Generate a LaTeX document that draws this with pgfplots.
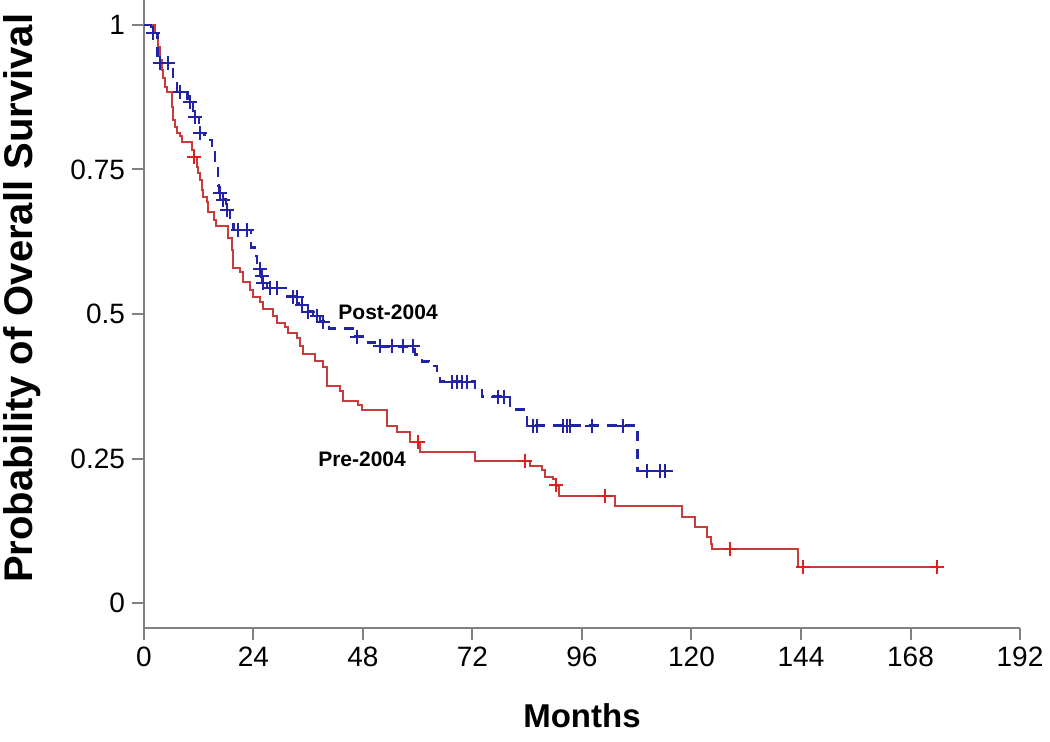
\documentclass[border=0pt]{standalone}
\usepackage{pgfplots}
\pgfplotsset{compat=1.18}
\usepackage{fontspec}
\setmainfont{Liberation Sans}
\definecolor{kmred}{RGB}{200,60,60}
\definecolor{kmredmark}{RGB}{225,30,30}
\definecolor{kmblue}{RGB}{35,35,165}
\begin{document}
\begin{tikzpicture}
\useasboundingbox (-72pt,-56.5pt) rectangle (453pt,314pt);
\begin{axis}[
  at={(0,0)}, anchor=south west,
  scale only axis, width=438pt, height=314pt,
  xmin=0, xmax=192, ymin=-0.043, ymax=1.043,
  axis x line=bottom, axis y line=left,
  axis line style={-, gray, line width=1pt},
  xtick={0,24,...,192},
  ytick={0,0.25,0.5,0.75,1},
  yticklabels={0,0.25,0.5,0.75,1},
  tick align=outside, major tick length=6pt,
  tick style={gray, line width=1pt},
  /pgf/number format/assume math mode=true,
  tick label style={font=\fontsize{14}{16}\selectfont, black},
  xlabel={Months}, ylabel={Probability of Overall Survival},
  xlabel style={font=\bfseries\fontsize{16.5}{19}\selectfont, at={(axis description cs:0.5,-0.14)}, anchor=center},
  ylabel style={font=\bfseries\fontsize{20}{22}\selectfont, at={(axis description cs:-0.139,0.525)}, anchor=center},
  clip=false,
]
% Pre-2004
\addplot[const plot, kmred, line width=1pt] coordinates {
(0,1.0) (2.4,0.986) (3.1,0.962) (3.5,0.940) (3.9,0.922) (4.2,0.908) (4.6,0.893)
(5.0,0.884) (6.1,0.858) (6.4,0.836) (6.8,0.824) (7.2,0.813) (7.9,0.807) (8.3,0.798)
(10.5,0.784) (10.9,0.772) (11.6,0.755) (11.8,0.744) (12.3,0.732) (12.7,0.715)
(12.9,0.703) (13.8,0.694) (14.0,0.677) (15.3,0.663) (15.7,0.652) (18.5,0.632)
(19.2,0.611) (19.5,0.580) (21.0,0.573) (21.7,0.556) (23.2,0.542) (23.9,0.530)
(25.4,0.520) (26.1,0.508) (28.3,0.496) (29.1,0.485) (30.9,0.478) (31.6,0.468)
(33.5,0.459) (34.2,0.444) (34.8,0.430) (37.5,0.418) (39.2,0.409) (40.1,0.376)
(43.0,0.366) (43.6,0.350) (46.9,0.342) (47.8,0.334) (53.3,0.306) (55.4,0.296)
(58.3,0.279) (60.5,0.261) (72.5,0.246) (84.6,0.237) (87.2,0.231) (87.9,0.219)
(89.6,0.214) (90.2,0.202) (90.9,0.185) (103.2,0.168) (117.9,0.149) (120.8,0.131)
(123.4,0.114) (124.2,0.103) (124.6,0.093) (143.3,0.062) (175.0,0.062)
};
\addplot[only marks, mark=+, mark size=3.5pt, kmredmark, mark options={line width=1pt}] coordinates {
(10.9,0.772) (60.0,0.279) (83.5,0.246) (90.3,0.205) (101.0,0.185)
(128.4,0.093) (144.4,0.062) (173.8,0.062)
};
% Post-2004
\addplot[const plot, kmblue, line width=1.2pt, dash pattern=on 5pt off 4pt] coordinates {
(0,1.0) (1.5,0.986) (3.0,0.934) (6.4,0.908) (7.2,0.884) (9.5,0.867) (10.8,0.841)
(12.0,0.813) (13.3,0.801) (14.9,0.779) (15.6,0.755) (16.2,0.722) (16.5,0.710)
(17.1,0.698) (18.0,0.680) (18.8,0.660) (19.6,0.645) (23.4,0.615) (24.2,0.600)
(24.8,0.589) (25.2,0.577) (25.7,0.565) (26.0,0.554) (27.0,0.545) (31.0,0.530)
(34.0,0.516) (35.5,0.504) (37.0,0.496) (38.6,0.487) (40.5,0.475) (45.8,0.461)
(48.5,0.451) (50.5,0.444) (59.4,0.430) (60.9,0.418) (62.5,0.410) (64.2,0.396)
(64.9,0.383) (72.5,0.372) (74.1,0.357) (80.2,0.335) (83.9,0.307) (108.2,0.229)
(115.9,0.229)
};
\addplot[only marks, mark=+, mark size=3.5pt, kmblue, mark options={line width=1pt}] coordinates {
(2.0,0.986) (3.5,0.934) (5.3,0.934) (7.9,0.884) (10.1,0.867) (11.2,0.841)
(12.3,0.813) (16.7,0.710) (17.3,0.698) (18.2,0.680) (20.5,0.645) (22.6,0.645)
(25.4,0.577) (25.9,0.565) (26.1,0.554) (27.6,0.545) (29.1,0.545) (32.7,0.530)
(33.5,0.530) (34.6,0.516) (35.9,0.504) (37.9,0.496) (39.2,0.487) (46.7,0.461)
(51.7,0.444) (54.4,0.444) (56.8,0.444) (59.0,0.444) (67.5,0.383) (68.6,0.383)
(69.7,0.383) (70.8,0.383) (77.6,0.357) (79.0,0.357) (85.3,0.307) (86.1,0.307)
(91.8,0.307) (92.7,0.307) (93.4,0.307) (98.2,0.307) (104.9,0.307)
(110.2,0.229) (113.1,0.229) (114.2,0.229)
};
\node[font=\bfseries\fontsize{10.5}{12}\selectfont] at (axis cs:53.5,0.503) {Post-2004};
\node[font=\bfseries\fontsize{10.5}{12}\selectfont] at (axis cs:47.8,0.249) {Pre-2004};
\end{axis}
\end{tikzpicture}
\end{document}
